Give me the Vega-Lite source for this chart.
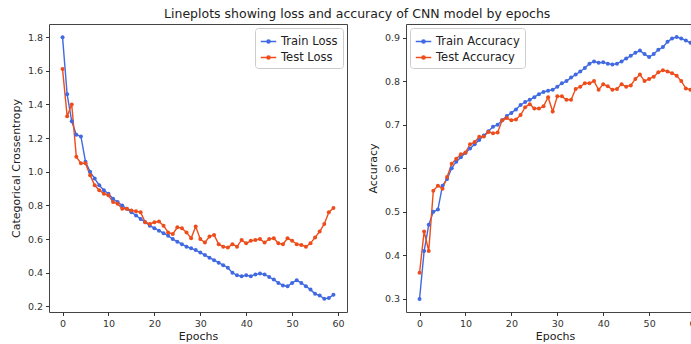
{
  "$schema": "https://vega.github.io/schema/vega-lite/v6.json",
  "padding": {"left": 9, "top": 8, "right": 0, "bottom": 4},
  "title": {"text": "Lineplots showing loss and accuracy of CNN model by epochs", "fontSize": 12.5, "fontWeight": "normal", "font": "DejaVu Sans", "color": "#222", "anchor": "middle", "offset": 3},
  "config": {
    "font": "DejaVu Sans",
    "view": {"stroke": "#444", "strokeWidth": 1},
    "axis": {"grid": false, "domain": false, "tickColor": "#333", "tickSize": 3.5, "labelFontSize": 9.5, "labelColor": "#333", "titleFontSize": 11, "titleFontWeight": "normal", "titleColor": "#222", "labelPadding": 3},
    "legend": {"fillColor": "white", "strokeColor": "#ccc", "padding": 5, "cornerRadius": 3, "labelFontSize": 11.5, "labelColor": "#222", "symbolStrokeWidth": 1.5, "symbolSize": 240, "symbolType": "M-1,0L1,0M-0.2,0A0.2,0.2 0 1,0 0.2,0A0.2,0.2 0 1,0 -0.2,0", "rowPadding": 2, "title": null}
  },
  "datasets": {
    "loss": [
      {"e":0,"Train Loss":1.80,"Test Loss":1.61},{"e":1,"Train Loss":1.46,"Test Loss":1.33},{"e":2,"Train Loss":1.30,"Test Loss":1.40},{"e":3,"Train Loss":1.22,"Test Loss":1.09},{"e":4,"Train Loss":1.21,"Test Loss":1.05},{"e":5,"Train Loss":1.06,"Test Loss":1.05},{"e":6,"Train Loss":1.00,"Test Loss":0.98},{"e":7,"Train Loss":0.96,"Test Loss":0.92},{"e":8,"Train Loss":0.92,"Test Loss":0.89},{"e":9,"Train Loss":0.89,"Test Loss":0.87},
      {"e":10,"Train Loss":0.87,"Test Loss":0.86},{"e":11,"Train Loss":0.84,"Test Loss":0.82},{"e":12,"Train Loss":0.82,"Test Loss":0.81},{"e":13,"Train Loss":0.80,"Test Loss":0.78},{"e":14,"Train Loss":0.78,"Test Loss":0.78},{"e":15,"Train Loss":0.76,"Test Loss":0.77},{"e":16,"Train Loss":0.74,"Test Loss":0.765},{"e":17,"Train Loss":0.72,"Test Loss":0.76},{"e":18,"Train Loss":0.70,"Test Loss":0.70},{"e":19,"Train Loss":0.68,"Test Loss":0.69},
      {"e":20,"Train Loss":0.665,"Test Loss":0.70},{"e":21,"Train Loss":0.65,"Test Loss":0.705},{"e":22,"Train Loss":0.635,"Test Loss":0.68},{"e":23,"Train Loss":0.62,"Test Loss":0.64},{"e":24,"Train Loss":0.60,"Test Loss":0.63},{"e":25,"Train Loss":0.585,"Test Loss":0.67},{"e":26,"Train Loss":0.57,"Test Loss":0.665},{"e":27,"Train Loss":0.555,"Test Loss":0.64},{"e":28,"Train Loss":0.545,"Test Loss":0.605},{"e":29,"Train Loss":0.535,"Test Loss":0.675},
      {"e":30,"Train Loss":0.52,"Test Loss":0.60},{"e":31,"Train Loss":0.505,"Test Loss":0.58},{"e":32,"Train Loss":0.49,"Test Loss":0.615},{"e":33,"Train Loss":0.475,"Test Loss":0.625},{"e":34,"Train Loss":0.46,"Test Loss":0.57},{"e":35,"Train Loss":0.445,"Test Loss":0.555},{"e":36,"Train Loss":0.43,"Test Loss":0.55},{"e":37,"Train Loss":0.40,"Test Loss":0.57},{"e":38,"Train Loss":0.385,"Test Loss":0.555},{"e":39,"Train Loss":0.38,"Test Loss":0.595},
      {"e":40,"Train Loss":0.385,"Test Loss":0.575},{"e":41,"Train Loss":0.38,"Test Loss":0.59},{"e":42,"Train Loss":0.39,"Test Loss":0.595},{"e":43,"Train Loss":0.395,"Test Loss":0.60},{"e":44,"Train Loss":0.39,"Test Loss":0.58},{"e":45,"Train Loss":0.375,"Test Loss":0.60},{"e":46,"Train Loss":0.36,"Test Loss":0.605},{"e":47,"Train Loss":0.34,"Test Loss":0.575},{"e":48,"Train Loss":0.325,"Test Loss":0.57},{"e":49,"Train Loss":0.32,"Test Loss":0.605},
      {"e":50,"Train Loss":0.34,"Test Loss":0.59},{"e":51,"Train Loss":0.355,"Test Loss":0.57},{"e":52,"Train Loss":0.34,"Test Loss":0.565},{"e":53,"Train Loss":0.32,"Test Loss":0.555},{"e":54,"Train Loss":0.30,"Test Loss":0.575},{"e":55,"Train Loss":0.275,"Test Loss":0.61},{"e":56,"Train Loss":0.265,"Test Loss":0.645},{"e":57,"Train Loss":0.245,"Test Loss":0.69},{"e":58,"Train Loss":0.25,"Test Loss":0.76},{"e":59,"Train Loss":0.27,"Test Loss":0.785}
    ],
    "acc": [
      {"e":0,"Train Accuracy":0.30,"Test Accuracy":0.36},{"e":1,"Train Accuracy":0.41,"Test Accuracy":0.455},{"e":2,"Train Accuracy":0.47,"Test Accuracy":0.41},{"e":3,"Train Accuracy":0.50,"Test Accuracy":0.548},{"e":4,"Train Accuracy":0.505,"Test Accuracy":0.56},{"e":5,"Train Accuracy":0.56,"Test Accuracy":0.553},{"e":6,"Train Accuracy":0.575,"Test Accuracy":0.58},{"e":7,"Train Accuracy":0.60,"Test Accuracy":0.61},{"e":8,"Train Accuracy":0.615,"Test Accuracy":0.622},{"e":9,"Train Accuracy":0.625,"Test Accuracy":0.632},
      {"e":10,"Train Accuracy":0.635,"Test Accuracy":0.636},{"e":11,"Train Accuracy":0.645,"Test Accuracy":0.655},{"e":12,"Train Accuracy":0.655,"Test Accuracy":0.66},{"e":13,"Train Accuracy":0.665,"Test Accuracy":0.672},{"e":14,"Train Accuracy":0.675,"Test Accuracy":0.673},{"e":15,"Train Accuracy":0.685,"Test Accuracy":0.683},{"e":16,"Train Accuracy":0.695,"Test Accuracy":0.68},{"e":17,"Train Accuracy":0.70,"Test Accuracy":0.682},{"e":18,"Train Accuracy":0.71,"Test Accuracy":0.71},{"e":19,"Train Accuracy":0.72,"Test Accuracy":0.715},
      {"e":20,"Train Accuracy":0.727,"Test Accuracy":0.71},{"e":21,"Train Accuracy":0.735,"Test Accuracy":0.712},{"e":22,"Train Accuracy":0.745,"Test Accuracy":0.722},{"e":23,"Train Accuracy":0.752,"Test Accuracy":0.74},{"e":24,"Train Accuracy":0.757,"Test Accuracy":0.747},{"e":25,"Train Accuracy":0.763,"Test Accuracy":0.737},{"e":26,"Train Accuracy":0.77,"Test Accuracy":0.737},{"e":27,"Train Accuracy":0.775,"Test Accuracy":0.742},{"e":28,"Train Accuracy":0.778,"Test Accuracy":0.763},{"e":29,"Train Accuracy":0.78,"Test Accuracy":0.73},
      {"e":30,"Train Accuracy":0.787,"Test Accuracy":0.765},{"e":31,"Train Accuracy":0.795,"Test Accuracy":0.765},{"e":32,"Train Accuracy":0.80,"Test Accuracy":0.757},{"e":33,"Train Accuracy":0.808,"Test Accuracy":0.757},{"e":34,"Train Accuracy":0.815,"Test Accuracy":0.782},{"e":35,"Train Accuracy":0.822,"Test Accuracy":0.787},{"e":36,"Train Accuracy":0.83,"Test Accuracy":0.795},{"e":37,"Train Accuracy":0.84,"Test Accuracy":0.795},{"e":38,"Train Accuracy":0.845,"Test Accuracy":0.80},{"e":39,"Train Accuracy":0.842,"Test Accuracy":0.78},
      {"e":40,"Train Accuracy":0.843,"Test Accuracy":0.793},{"e":41,"Train Accuracy":0.84,"Test Accuracy":0.788},{"e":42,"Train Accuracy":0.838,"Test Accuracy":0.78},{"e":43,"Train Accuracy":0.84,"Test Accuracy":0.782},{"e":44,"Train Accuracy":0.845,"Test Accuracy":0.793},{"e":45,"Train Accuracy":0.852,"Test Accuracy":0.787},{"e":46,"Train Accuracy":0.858,"Test Accuracy":0.79},{"e":47,"Train Accuracy":0.865,"Test Accuracy":0.805},{"e":48,"Train Accuracy":0.87,"Test Accuracy":0.815},{"e":49,"Train Accuracy":0.862,"Test Accuracy":0.80},
      {"e":50,"Train Accuracy":0.855,"Test Accuracy":0.805},{"e":51,"Train Accuracy":0.862,"Test Accuracy":0.81},{"e":52,"Train Accuracy":0.872,"Test Accuracy":0.82},{"e":53,"Train Accuracy":0.878,"Test Accuracy":0.825},{"e":54,"Train Accuracy":0.89,"Test Accuracy":0.822},{"e":55,"Train Accuracy":0.898,"Test Accuracy":0.818},{"e":56,"Train Accuracy":0.901,"Test Accuracy":0.812},{"e":57,"Train Accuracy":0.898,"Test Accuracy":0.80},{"e":58,"Train Accuracy":0.893,"Test Accuracy":0.783},{"e":59,"Train Accuracy":0.888,"Test Accuracy":0.78}
    ]
  },
  "spacing": 59,
  "bounds": "flush",
  "resolve": {"scale": {"color": "independent", "y": "independent"}},
  "hconcat": [
    {
      "width": 298, "height": 288,
      "data": {"name": "loss"},
      "transform": [{"fold": ["Train Loss", "Test Loss"], "as": ["series", "value"]}],
      "mark": {"type": "line", "strokeWidth": 1.4, "point": {"filled": true, "size": 16}},
      "encoding": {
        "x": {"field": "e", "type": "quantitative", "title": "Epochs", "scale": {"domain": [-2.95, 61.95], "nice": false, "zero": false}, "axis": {"values": [0,10,20,30,40,50,60], "format": "d", "titlePadding": 2}},
        "y": {"field": "value", "type": "quantitative", "title": "Categorical Crossentropy", "scale": {"domain": [0.167, 1.878], "nice": false, "zero": false}, "axis": {"values": [0.2,0.4,0.6,0.8,1.0,1.2,1.4,1.6,1.8], "format": ".1f", "titlePadding": 6}},
        "color": {"field": "series", "type": "nominal", "sort": ["Train Loss", "Test Loss"], "scale": {"domain": ["Train Loss", "Test Loss"], "range": ["#4169e1", "#ee4d1b"]}, "legend": {"orient": "top-right", "offset": 4}}
      }
    },
    {
      "width": 298, "height": 288,
      "data": {"name": "acc"},
      "transform": [{"fold": ["Train Accuracy", "Test Accuracy"], "as": ["series", "value"]}],
      "mark": {"type": "line", "strokeWidth": 1.4, "point": {"filled": true, "size": 16}},
      "encoding": {
        "x": {"field": "e", "type": "quantitative", "title": "Epochs", "scale": {"domain": [-2.95, 61.95], "nice": false, "zero": false}, "axis": {"values": [0,10,20,30,40,50,60], "format": "d", "titlePadding": 2}},
        "y": {"field": "value", "type": "quantitative", "title": "Accuracy", "scale": {"domain": [0.27, 0.931], "nice": false, "zero": false}, "axis": {"values": [0.3,0.4,0.5,0.6,0.7,0.8,0.9], "format": ".1f", "titlePadding": 6}},
        "color": {"field": "series", "type": "nominal", "sort": ["Train Accuracy", "Test Accuracy"], "scale": {"domain": ["Train Accuracy", "Test Accuracy"], "range": ["#4169e1", "#ee4d1b"]}, "legend": {"orient": "top-left", "offset": 4}}
      }
    }
  ]
}
